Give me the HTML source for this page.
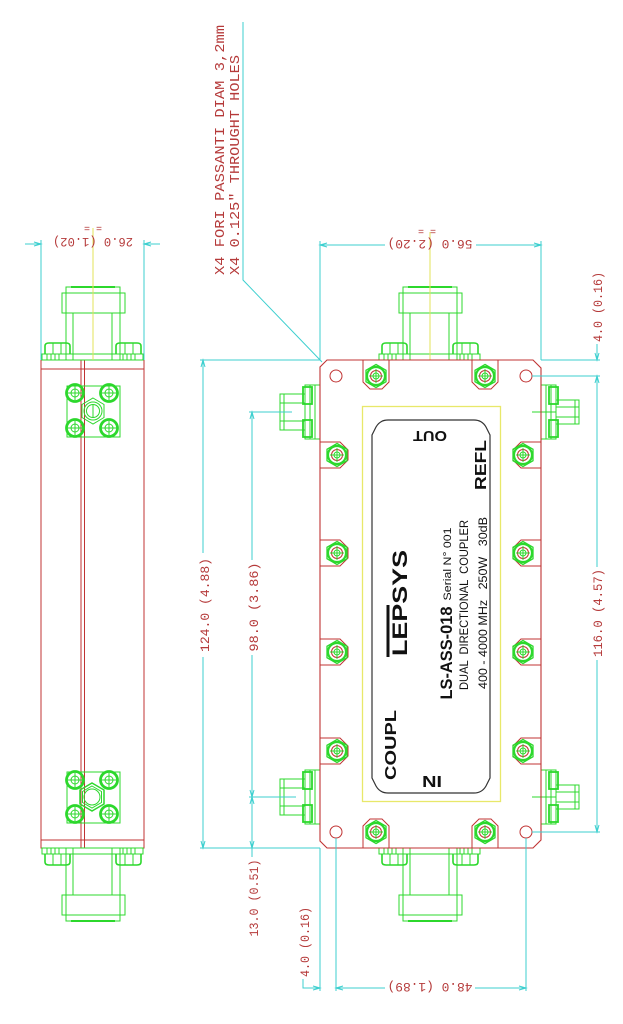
<!DOCTYPE html>
<html><head><meta charset="utf-8">
<style>html,body{margin:0;padding:0;background:#fff;}svg{display:block}</style></head>
<body>
<svg width="623" height="1024" viewBox="0 0 623 1024" xmlns="http://www.w3.org/2000/svg">
<defs>
 <g id="scr">
  <polygon points="0,-11.5 10,-5.8 10,5.8 0,11.5 -10,5.8 -10,-5.8" fill="none" stroke="#2cd82c" stroke-width="1.3"/>
  <circle r="9" fill="none" stroke="#2cd82c" stroke-width="2.2"/>
  <circle r="5.5" fill="none" stroke="#c03333" stroke-width="1"/>
  <circle r="3" fill="none" stroke="#2cd82c" stroke-width="1"/>
  <line x1="-7" y1="0" x2="7" y2="0" stroke="#2cd82c" stroke-width="1"/>
  <line x1="0" y1="-7" x2="0" y2="7" stroke="#2cd82c" stroke-width="1"/>
 </g>
 <g id="nc" fill="none" stroke="#2cd82c" stroke-width="1">
  <rect x="-51" y="-6" width="101" height="6"/>
  <path d="M-46,-6V0M-42,-6V0M-38,-6V0M-34,-6V0M30,-6V0M34,-6V0M38,-6V0M42,-6V0"/>
  <path d="M-48,-6 V-14 Q-48,-17 -44,-17 H-27 Q-23,-17 -23,-14 V-6" stroke-width="1.6"/>
  <path d="M23,-6 V-14 Q23,-17 27,-17 H44 Q48,-17 48,-14 V-6" stroke-width="1.6"/>
  <path d="M-40,-17V-6M-32,-17V-6M32,-17V-6M40,-17V-6"/>
  <rect x="-27" y="-47" width="54" height="47"/>
  <line x1="-20" y1="-47" x2="-20" y2="0"/>
  <line x1="19" y1="-47" x2="19" y2="0"/>
  <rect x="-31" y="-67" width="63" height="20"/>
  <line x1="-27" y1="-67" x2="-27" y2="-47"/>
  <line x1="27" y1="-67" x2="27" y2="-47"/>
  <rect x="-27" y="-73" width="54" height="6"/>
  <line x1="-22" y1="-73" x2="22" y2="-73" stroke-width="2"/>
 </g>
 <g id="smaL" fill="none" stroke="#2cd82c" stroke-width="1">
  <rect x="-15" y="-27" width="15" height="54"/>
  <line x1="-10" y1="-27" x2="-10" y2="27"/>
  <line x1="-5" y1="-27" x2="-5" y2="27"/>
  <rect x="-17" y="-25" width="9" height="17" stroke-width="1.8"/>
  <rect x="-17" y="8" width="9" height="17" stroke-width="1.8"/>
  <rect x="-40" y="-18" width="25" height="36"/>
  <line x1="-40" y1="-9" x2="-15" y2="-9"/>
  <line x1="-40" y1="9" x2="-15" y2="9"/>
  <line x1="-36" y1="-18" x2="-36" y2="18"/>
 </g>
 <g id="smaR" fill="none" stroke="#2cd82c" stroke-width="1">
  <rect x="-15" y="-27" width="15" height="54"/>
  <line x1="-10" y1="-27" x2="-10" y2="27"/>
  <line x1="-5" y1="-27" x2="-5" y2="27"/>
  <rect x="-17" y="-25" width="9" height="17" stroke-width="1.8"/>
  <rect x="-17" y="8" width="9" height="17" stroke-width="1.8"/>
  <rect x="-38" y="-12" width="23" height="24"/>
  <line x1="-38" y1="-5" x2="-15" y2="-5"/>
  <line x1="-38" y1="5" x2="-15" y2="5"/>
  <line x1="-34" y1="-12" x2="-34" y2="12"/>
  <line x1="-15" y1="0" x2="9" y2="0"/>
 </g>
 <g id="bolt">
  <circle r="8.5" fill="none" stroke="#2cd82c" stroke-width="2.8"/>
  <circle r="4" fill="none" stroke="#2cd82c" stroke-width="1"/>
  <line x1="-7" y1="0" x2="7" y2="0" stroke="#2cd82c"/>
  <line x1="0" y1="-7" x2="0" y2="7" stroke="#2cd82c"/>
 </g>
</defs>

<rect width="623" height="1024" fill="#fff"/>

<!-- ===== LEFT SIDE VIEW ===== -->
<g fill="none" stroke="#c03333" stroke-width="1">
 <rect x="41" y="360" width="103" height="488"/>
 <line x1="41" y1="369" x2="144" y2="369"/>
 <line x1="41" y1="840" x2="144" y2="840"/>
 <line x1="81" y1="360" x2="81" y2="848"/>
 <line x1="84.5" y1="360" x2="84.5" y2="848"/>
</g>
<use href="#nc" transform="translate(93,360)"/>
<use href="#nc" transform="translate(93,848) scale(1,-1)"/>
<g fill="none" stroke="#2cd82c" stroke-width="1">
 <rect x="67" y="386" width="53" height="51"/>
 <polygon points="93,398 104,404.5 104,417.5 93,424 82,417.5 82,404.5"/>
 <circle cx="93" cy="411" r="9"/>
 <circle cx="93" cy="411" r="6.5"/>
 <line x1="93" y1="405" x2="93" y2="417"/>
 <rect x="67" y="772" width="53" height="51"/>
 <polygon points="92,783 104,790 104,804 92,811 80,804 80,790" stroke-width="1.5"/>
 <polygon points="92,786 101.5,791.5 101.5,802.5 92,808 82.5,802.5 82.5,791.5"/>
 <circle cx="92" cy="797" r="8"/>
</g>
<use href="#bolt" transform="translate(75,393)"/>
<use href="#bolt" transform="translate(109,393)"/>
<use href="#bolt" transform="translate(75,428)"/>
<use href="#bolt" transform="translate(109,428)"/>
<use href="#bolt" transform="translate(75,780)"/>
<use href="#bolt" transform="translate(109,780)"/>
<use href="#bolt" transform="translate(75,814)"/>
<use href="#bolt" transform="translate(109,814)"/>
<line x1="93" y1="228" x2="93" y2="360" stroke="#e3e35a" stroke-width="1"/>

<!-- ===== MAIN VIEW ===== -->
<use href="#nc" transform="translate(430,360)"/>
<use href="#nc" transform="translate(430,848) scale(1,-1)"/>
<use href="#smaL" transform="translate(320,412)"/>
<use href="#smaL" transform="translate(320,797)"/>
<use href="#smaR" transform="translate(541,412) scale(-1,1)"/>
<use href="#smaR" transform="translate(541,797) scale(-1,1)"/>
<line x1="430" y1="232" x2="430" y2="360" stroke="#e3e35a" stroke-width="1"/>

<path d="M327,360 H533 L541,368 V840 L533,848 H327 L320,841 V367 Z" fill="none" stroke="#c03333" stroke-width="1.1"/>
<g fill="none" stroke="#c03333" stroke-width="1">
 <circle cx="336" cy="376" r="6"/>
 <circle cx="526" cy="376" r="6"/>
 <circle cx="336" cy="832" r="6"/>
 <circle cx="526" cy="832" r="6"/>
</g>

<g transform="translate(376,376)"><path d="M-13,-16 V6 L-6,13 H6 L13,6 V-16" fill="none" stroke="#c03333"/><use href="#scr"/></g>
<g transform="translate(485,376)"><path d="M-13,-16 V6 L-6,13 H6 L13,6 V-16" fill="none" stroke="#c03333"/><use href="#scr"/></g>
<g transform="translate(376,832) scale(1,-1)"><path d="M-13,-16 V6 L-6,13 H6 L13,6 V-16" fill="none" stroke="#c03333"/><use href="#scr"/></g>
<g transform="translate(485,832) scale(1,-1)"><path d="M-13,-16 V6 L-6,13 H6 L13,6 V-16" fill="none" stroke="#c03333"/><use href="#scr"/></g>

<g transform="translate(337,455)"><path d="M-17,-13 H3 L11,-5 V5 L3,13 H-17" fill="none" stroke="#c03333"/><use href="#scr"/></g>
<g transform="translate(337,553)"><path d="M-17,-13 H3 L11,-5 V5 L3,13 H-17" fill="none" stroke="#c03333"/><use href="#scr"/></g>
<g transform="translate(337,652)"><path d="M-17,-13 H3 L11,-5 V5 L3,13 H-17" fill="none" stroke="#c03333"/><use href="#scr"/></g>
<g transform="translate(337,751)"><path d="M-17,-13 H3 L11,-5 V5 L3,13 H-17" fill="none" stroke="#c03333"/><use href="#scr"/></g>
<g transform="translate(523,455) scale(-1,1)"><path d="M-18,-13 H2 L10,-5 V5 L2,13 H-18" fill="none" stroke="#c03333"/><use href="#scr"/></g>
<g transform="translate(523,553) scale(-1,1)"><path d="M-18,-13 H2 L10,-5 V5 L2,13 H-18" fill="none" stroke="#c03333"/><use href="#scr"/></g>
<g transform="translate(523,652) scale(-1,1)"><path d="M-18,-13 H2 L10,-5 V5 L2,13 H-18" fill="none" stroke="#c03333"/><use href="#scr"/></g>
<g transform="translate(523,751) scale(-1,1)"><path d="M-18,-13 H2 L10,-5 V5 L2,13 H-18" fill="none" stroke="#c03333"/><use href="#scr"/></g>

<rect x="362.5" y="406.5" width="138" height="395" fill="none" stroke="#e8e86a" stroke-width="1.3"/>
<path d="M388,420 H474 Q482,420 486,427 L490,435 V778 L486,786 Q482,793 474,793 H388 Q380,793 376,786 L372,778 V435 L376,427 Q380,420 388,420 Z" fill="none" stroke="#333" stroke-width="1.2"/>

<g font-family="'Liberation Sans', Arial, sans-serif" fill="#111">
 <text transform="translate(396,745) rotate(-90)" text-anchor="middle" font-size="16" font-weight="bold" textLength="70" lengthAdjust="spacingAndGlyphs">COUPL</text>
 <text transform="translate(486,465) rotate(-90)" text-anchor="middle" font-size="16" font-weight="bold" textLength="50" lengthAdjust="spacingAndGlyphs">REFL</text>
 <text transform="translate(430,431) rotate(180)" text-anchor="middle" font-size="15" font-weight="bold" textLength="34" lengthAdjust="spacingAndGlyphs">OUT</text>
 <text transform="translate(432,776) rotate(180)" text-anchor="middle" font-size="16" font-weight="bold" textLength="20" lengthAdjust="spacingAndGlyphs">IN</text>
 <text transform="translate(452,653) rotate(-90)" text-anchor="middle" font-size="17" font-weight="bold" textLength="93" lengthAdjust="spacingAndGlyphs">LS-ASS-018</text>
 <text transform="translate(451,564) rotate(-90)" text-anchor="middle" font-size="11" textLength="73" lengthAdjust="spacingAndGlyphs">Serial N° 001</text>
 <text transform="translate(468,605) rotate(-90)" text-anchor="middle" font-size="12" textLength="170" lengthAdjust="spacingAndGlyphs" xml:space="preserve">DUAL  DIRECTIONAL  COUPLER</text>
 <text transform="translate(487,603) rotate(-90)" text-anchor="middle" font-size="12" textLength="172" lengthAdjust="spacingAndGlyphs" xml:space="preserve">400 - 4000 MHz   250W   30dB</text>
 <text transform="translate(407,603) rotate(-90)" text-anchor="middle" font-size="21" font-weight="bold" textLength="106" lengthAdjust="spacingAndGlyphs">LEPSYS</text>
</g>
<line x1="388" y1="605" x2="388" y2="657" stroke="#111" stroke-width="3"/>

<g stroke="#3ccfcf" stroke-width="1" fill="none">
 <path d="M320,245 H385 M476,245 H541 M320,241 V360 M541,241 V360"/>
 <path d="M327,243 L320,245 L327,247 M534,243 L541,245 L534,247"/>
 <path d="M25,244 H41 M144,244 H160 M41,240 V360 M144,240 V360"/>
 <path d="M34,242 L41,244 L34,246 M151,242 L144,244 L151,246"/>
 <path d="M203,360 V553 M203,657 V848 M200,360 H320 M200,848 H320"/>
 <path d="M201,367 L203,360 L205,367 M201,841 L203,848 L205,841"/>
 <path d="M252,412 V560 M252,655 V857 M249,412 H292 M249,797 H296"/>
 <path d="M250,419 L252,412 L254,419 M250,790 L252,797 L254,790 M250,804 L252,797 L254,804 M250,841 L252,848 L254,841"/>
 <path d="M320,848 V991 M336,838 V991 M303,979 V988 H320"/>
 <path d="M313,986 L320,988 L313,990"/>
 <path d="M336,988 H385 M475,988 H526 M526,838 V991"/>
 <path d="M343,986 L336,988 L343,990 M519,986 L526,988 L519,990"/>
 <path d="M541,360 H600 M532,376 H600 M597,344 V360"/>
 <path d="M595,353 L597,360 L599,353"/>
 <path d="M597,376 V567 M597,660 V832 M532,832 H600"/>
 <path d="M595,383 L597,376 L599,383 M595,825 L597,832 L599,825"/>
 <path d="M243,22 V280 L322,362"/>
</g>

<g font-family="'Liberation Mono', 'DejaVu Sans Mono', monospace" fill="#b53a3a" font-size="13">
 <text transform="translate(430,240) rotate(180)" text-anchor="middle" textLength="85" lengthAdjust="spacingAndGlyphs">56.0 (2.20)</text>
 <text transform="translate(93,238) rotate(180)" text-anchor="middle" textLength="80" lengthAdjust="spacingAndGlyphs">26.0 (1.02)</text>
 <text transform="translate(430,983) rotate(180)" text-anchor="middle" textLength="85" lengthAdjust="spacingAndGlyphs">48.0 (1.89)</text>
 <text transform="translate(209,605) rotate(-90)" text-anchor="middle" textLength="94" lengthAdjust="spacingAndGlyphs">124.0 (4.88)</text>
 <text transform="translate(258,607) rotate(-90)" text-anchor="middle" textLength="89" lengthAdjust="spacingAndGlyphs">98.0 (3.86)</text>
 <text transform="translate(258,898) rotate(-90)" text-anchor="middle" textLength="77" lengthAdjust="spacingAndGlyphs">13.0 (0.51)</text>
 <text transform="translate(309,942) rotate(-90)" text-anchor="middle" textLength="70" lengthAdjust="spacingAndGlyphs">4.0 (0.16)</text>
 <text transform="translate(602,307) rotate(-90)" text-anchor="middle" textLength="70" lengthAdjust="spacingAndGlyphs">4.0 (0.16)</text>
 <text transform="translate(602,613) rotate(-90)" text-anchor="middle" textLength="88" lengthAdjust="spacingAndGlyphs">116.0 (4.57)</text>
 <text transform="translate(427,228) rotate(180)" text-anchor="middle" font-size="10" xml:space="preserve">= =</text>
 <text transform="translate(93,225) rotate(180)" text-anchor="middle" font-size="10" xml:space="preserve">= =</text>
 <text transform="translate(224,275) rotate(-90)" text-anchor="start" font-size="14" textLength="250" lengthAdjust="spacingAndGlyphs">X4 FORI PASSANTI DIAM 3,2mm</text>
 <text transform="translate(239,275) rotate(-90)" text-anchor="start" font-size="14" textLength="220" lengthAdjust="spacingAndGlyphs">X4 0.125" THROUGHT HOLES</text>
</g>
</svg>
</body></html>
